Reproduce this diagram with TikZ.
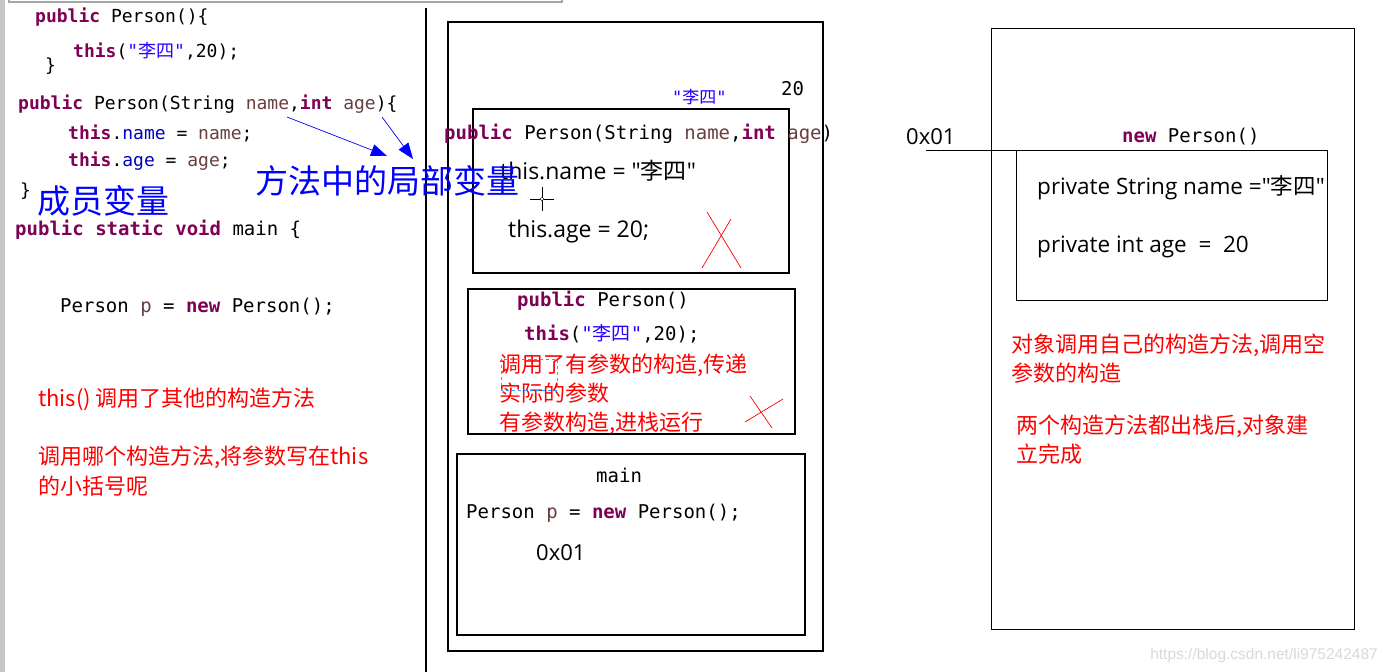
\documentclass[tikz,border=0pt]{standalone}
\usepackage{fontspec}
\usepackage{xcolor}
\usepackage{tikz}
\usetikzlibrary{arrows.meta}
\setmainfont{Open Sans}
\setmonofont{DejaVu Sans Mono}
\newfontfamily\ui{Open Sans}
\newfontfamily\cjk{Noto Sans CJK SC}
\newfontfamily\wmfont{Liberation Sans}
\definecolor{kwcol}{RGB}{127,0,85}
\definecolor{fldcol}{RGB}{0,0,192}
\definecolor{prmcol}{RGB}{106,62,62}
\definecolor{strcol}{RGB}{42,0,255}
\definecolor{notecol}{RGB}{255,0,0}
\definecolor{bluecol}{RGB}{0,0,255}
\definecolor{selcol}{RGB}{51,153,255}
\newcommand\fs[1]{\fontsize{#1}{#1}\selectfont}
\newcommand\kw[1]{\textcolor{kwcol}{\bfseries #1}}
\newcommand\fld[1]{\textcolor{fldcol}{#1}}
\newcommand\prm[1]{\textcolor{prmcol}{#1}}
\newcommand\lit[1]{\textcolor{strcol}{#1}}
\newcommand\zh[1]{{\cjk #1}}

\begin{document}
\begin{tikzpicture}[x=1pt,y=-1pt,
  code/.style={font=\ttfamily\fs{#1}, anchor=base west, inner sep=0pt},
  code/.default=19,
  plain/.style={font=\ui\fs{#1}, anchor=base west, inner sep=0pt},
  plain/.default=22.5,
  note/.style={font=\cjk\fs{#1}, text=notecol, anchor=base west, inner sep=0pt},
  note/.default=22,
  big/.style={font=\cjk\fs{33}, text=bluecol, anchor=base west, inner sep=0pt},
  frame/.style={draw, line width=#1, inner sep=0pt, anchor=north west},
  frame/.default=1.5pt,
  cross/.style={notecol, line width=.7pt},
  link/.style={bluecol, line width=.7pt, -{Triangle[length=16pt,width=12pt]}},
]
\useasboundingbox[fill=white] (0,0) rectangle (1387,672);

% window edges
\fill[gray!45] (0,0) rectangle (5,672);
\draw[gray!70, line width=1.5pt] (9,-2) -- (9,2) -- (562,2) -- (562,-2);
\draw[line width=1.2pt] (426,8) -- (426,672);

% code on the left
\node[code=18] (ctor1) at (35,22) {\kw{public} Person()\{};
\node[code=18] (call1) at (73,57) {\kw{this}(\lit{"\zh{李四}"},20);};
\node[code=18] (end1) at (45,71) {\}};
\node[code=18] (ctor2) at (18,109) {\kw{public} Person(String \prm{name},\kw{int} \prm{age})\{};
\node[code=18] (set1) at (68,139) {\kw{this}.\fld{name} = \prm{name};};
\node[code=18] (set2) at (68,166) {\kw{this}.\fld{age} = \prm{age};};
\node[code=18] (end2) at (20,196) {\}};
\node[big] (member) at (37,213) {成员变量};
\node[code] (mainsig) at (15,235) {\kw{public} \kw{static} \kw{void} main \{};
\node[code] (newp) at (60,312) {Person \prm{p} = \kw{new} Person();};

\node[note] (hint1) at (38,406) {this() 调用了其他的构造方法};
\node[note] (hint2) at (38,464) {调用哪个构造方法,将参数写在this};
\node[note] (hint3) at (38,494) {的小括号呢};

% stack
\node[frame, minimum width=375pt, minimum height=629pt] (stack) at (447,21) {};
\node[frame, minimum width=316pt, minimum height=164pt] (pframe) at (472,108) {};
\node[frame, minimum width=327pt, minimum height=145pt] (eframe) at (467,288) {};
\node[frame=2pt, minimum width=348pt, minimum height=181pt] (mframe) at (456,453) {};

\node[code] (twenty) at (781,95) {20};
\node[code=17, text=strcol] (litname) at (672,103) {"\zh{李四}"};
\node[code] (hdr) at (444,139) {\kw{public} Person(String \prm{name},\kw{int} \prm{age})};
\node[plain=23] (asgname) at (500,179) {this.name = "\zh{李四}"};
\node[plain=23] (asgage) at (508,237) {this.age = 20;};
\node[big] (local) at (255,193) {方法中的局部变量};

% cursor
\draw (530,199) -- (554,199) (542,187) -- (542,211);
\draw[fill=white] (542,199) circle (1.8);

\draw[cross] (707,212) -- (741,268);
\draw[cross] (731,219) -- (702,268);

\node[code] (ctor3) at (517,306) {\kw{public} Person()};
\node[code] (call2) at (524,340) {\kw{this}(\lit{"\zh{李四}"},20);};
\node[note] (step1) at (499,372) {调用了有参数的构造,传递};
\node[note] (step2) at (499,401) {实际的参数};
\node[note] (step3) at (499,430) {有参数构造,进栈运行};
\draw[selcol, dashed, line width=.8pt] (501,359) rectangle (557,390);

\draw[cross] (750,396) -- (772,428);
\draw[cross] (745,422) -- (783,399);

\node[code] (mainname) at (596,482) {main};
\node[code] (newp2) at (466,518) {Person \prm{p} = \kw{new} Person();};
\node[plain=22] (addr) at (536,560) {0x01};

% heap
\node[frame=1.2pt, minimum width=363pt, minimum height=601pt] (heap) at (991,28) {};
\node[frame=1.3pt, minimum width=311pt, minimum height=150pt] (obj) at (1016,150) {};

\node[plain=22] (ptr) at (906,144) {0x01};
\node[code] (newobj) at (1122,142) {\kw{new} Person()};
\node[plain] (fname) at (1037,194) {private String name ="\zh{李四}"};
\node[plain] (fage) at (1037,252) {private int age \ = \ 20};

\node[note] (done1) at (1011,352) {对象调用自己的构造方法,调用空};
\node[note] (done2) at (1011,381) {参数的构造};
\node[note] (done3) at (1016,433) {两个构造方法都出栈后,对象建};
\node[note] (done4) at (1016,462) {立完成};

\node[font=\wmfont\fs{15.5}, text=gray!30, anchor=base east, inner sep=0pt] (mark) at (1378,659) {https://blog.csdn.net/li975242487};

% connectors
\coordinate (nametail) at (287,117);
\coordinate (agetail) at (382,117);
\coordinate (nametip) at (387,156);
\coordinate (agetip) at (413,159);
\draw[link] (nametail) -- (nametip);
\draw[link] (agetail) -- (agetip);

\coordinate (ptrtail) at (926,150);
\draw[line width=1pt] (ptrtail) -- (obj.north west);
\end{tikzpicture}
\end{document}
